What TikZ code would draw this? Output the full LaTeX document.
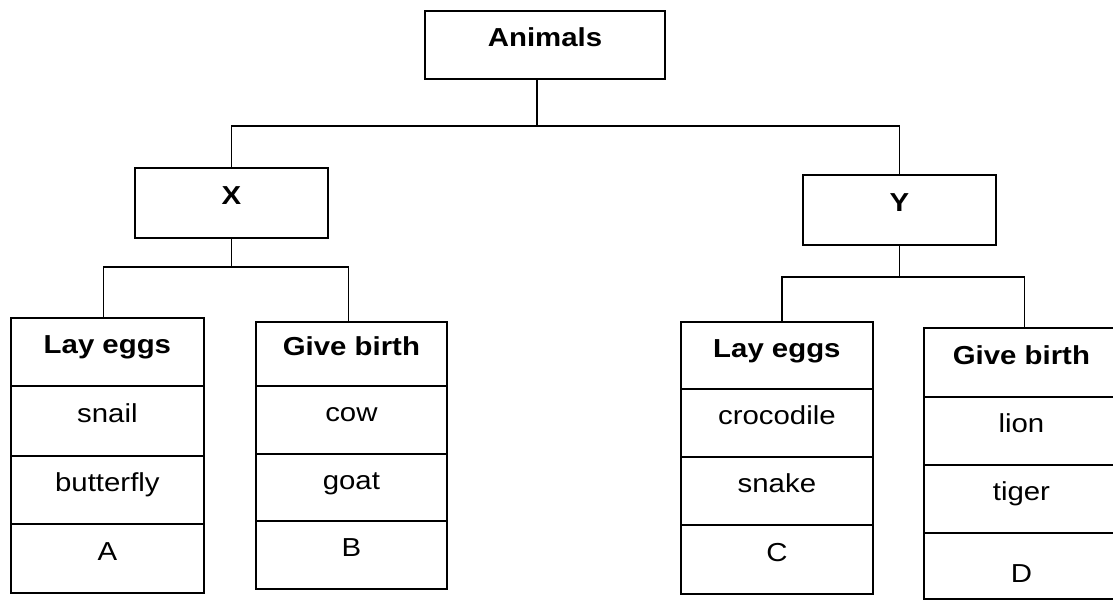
\documentclass[tikz,border=0pt]{standalone}
\usepackage{fontspec}
\setmainfont{Liberation Sans}[FakeStretch=1.13]
\begin{document}
\begin{tikzpicture}[x=1pt,y=-1pt,
  box/.style={draw, line width=1.8pt, inner sep=0pt, text height=19pt, text depth=15pt,
              font=\fontsize{26}{30}\selectfont},
  head/.style={font=\fontsize{26}{30}\selectfont\bfseries},
  cell/.style={box, anchor=north west},
  wire/.style={line width=1.8pt}]
\useasboundingbox (0,0) rectangle (1113,601);
\fill[white] (0,0) rectangle (1113,601);

% top boxes
\node[box, head, minimum width=240pt, minimum height=68pt] (animals) at (545,45) {Animals};
\node[box, head, minimum width=193pt, minimum height=70pt] (x) at (231.5,203) {X};
\node[box, head, minimum width=193pt, minimum height=70pt] (y) at (899.5,210) {Y};

% left table: lay eggs
\node[cell, head, minimum width=193pt, minimum height=68pt] (la0) at (10,317) {Lay eggs};
\node[cell, minimum width=193pt, minimum height=70pt] (la1) at (10,385) {snail};
\node[cell, minimum width=193pt, minimum height=68pt] (la2) at (10,455) {butterfly};
\node[cell, minimum width=193pt, minimum height=69pt] (la3) at (10,523) {A};

% left table: give birth
\node[cell, head, minimum width=191pt, minimum height=64pt] (lb0) at (255,321) {Give birth};
\node[cell, minimum width=191pt, minimum height=68pt] (lb1) at (255,385) {cow};
\node[cell, minimum width=191pt, minimum height=67pt] (lb2) at (255,453) {goat};
\node[cell, minimum width=191pt, minimum height=68pt] (lb3) at (255,520) {B};

% right table: lay eggs
\node[cell, head, minimum width=192pt, minimum height=67pt] (rc0) at (680,321) {Lay eggs};
\node[cell, minimum width=192pt, minimum height=68pt] (rc1) at (680,388) {crocodile};
\node[cell, minimum width=192pt, minimum height=68pt] (rc2) at (680,456) {snake};
\node[cell, minimum width=192pt, minimum height=69pt] (rc3) at (680,524) {C};

% right table: give birth
\node[cell, head, minimum width=195pt, minimum height=69pt] (rd0) at (923,327) {Give birth};
\node[cell, minimum width=195pt, minimum height=68pt] (rd1) at (923,396) {lion};
\node[cell, minimum width=195pt, minimum height=68pt] (rd2) at (923,464) {tiger};
\node[cell, minimum width=195pt, minimum height=66pt, text height=34pt, text depth=0pt] (rd3) at (923,532) {D};

% connectors
\coordinate (ja) at (537,126);
\draw[wire] (animals.south -| ja) -- (ja);
\draw[wire] (x.north) |- (ja) -| (y.north);

\coordinate (jx) at (231.5,267);
\draw[wire] (x.south) -- (jx);
\draw[wire] ([xshift=-4pt]la0.north) |- (jx);
\draw[wire] ([xshift=-3pt]lb0.north) |- (jx);

\coordinate (jy) at (899.5,277);
\draw[wire] (y.south) -- (jy);
\draw[wire] ([xshift=5pt]rc0.north) |- (jy);
\draw[wire] ([xshift=3pt]rd0.north) |- (jy);
\end{tikzpicture}
\end{document}
